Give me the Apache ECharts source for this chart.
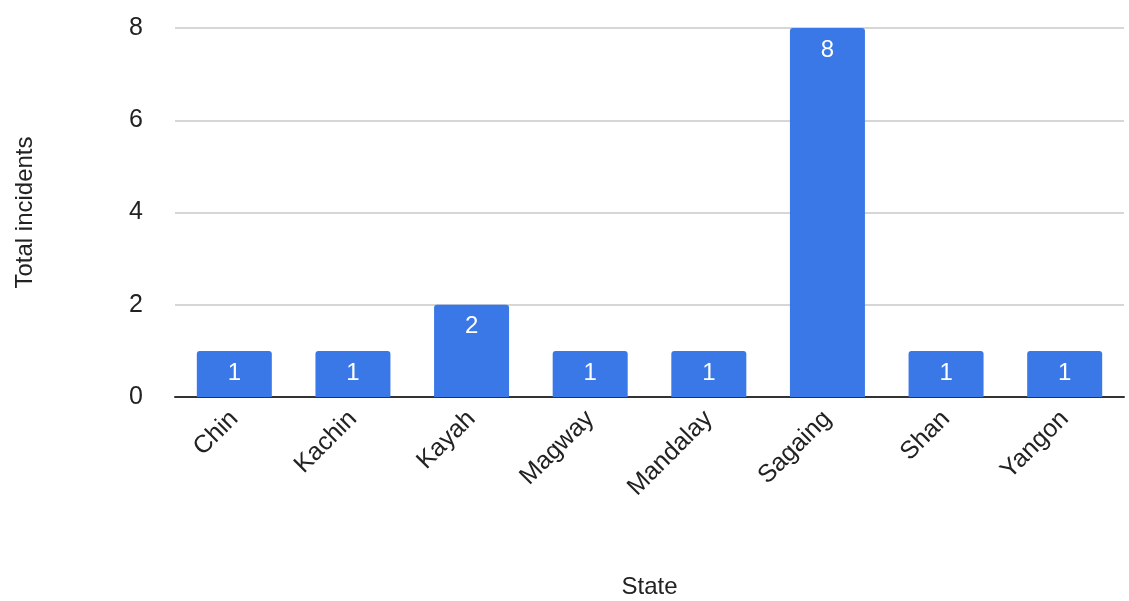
<!DOCTYPE html>
<html>
<head>
<meta charset="utf-8">
<style>
  html, body { margin: 0; padding: 0; background: #fff; }
  #chart { width: 1129px; height: 601px; }
</style>
<script src="https://cdn.jsdelivr.net/npm/echarts@6/dist/echarts.min.js"></script>
</head>
<body>
<div id="chart"></div>
<script>
// incidents per state
const states = ['Chin', 'Kachin', 'Kayah', 'Magway', 'Mandalay', 'Sagaing', 'Shan', 'Yangon']
const incidents = [1, 1, 2, 1, 1, 8, 1, 1]

const chart = echarts.init(document.getElementById('chart'))
const font = 'Arial, "Liberation Sans", sans-serif'

chart.setOption({
  animation: false,
  grid: { left: 175, right: 5, top: 28, bottom: 204, outerBoundsMode: 'none', containLabel: false },
  xAxis: {
    type: 'category',
    data: states,
    name: 'State',
    nameLocation: 'middle',
    nameGap: 178,
    nameTextStyle: { fontFamily: font, fontSize: 24, color: '#222' },
    axisLine: { lineStyle: { color: '#333', width: 2 } },
    axisTick: { show: false },
    axisLabel: { rotate: 45, margin: 18, padding: [0, 0, 0, 0], fontFamily: font, fontSize: 25, color: '#222' }
  },
  yAxis: {
    type: 'value',
    min: 0,
    max: 8,
    interval: 2,
    name: 'Total incidents',
    nameLocation: 'middle',
    nameGap: 138,
    nameTextStyle: { fontFamily: font, fontSize: 24, color: '#222' },
    axisLabel: { margin: 32, fontFamily: font, fontSize: 25, color: '#222' },
    splitLine: { lineStyle: { color: '#c8c8c8', width: 1.5 } }
  },
  series: [
    {
      type: 'bar',
      data: incidents,
      barWidth: 75,
      itemStyle: { color: '#3b78e7', borderRadius: [3, 3, 0, 0] },
      label: {
        show: true,
        position: 'insideTop',
        distance: 10,
        color: '#fff',
        fontFamily: font,
        fontSize: 24
      }
    }
  ]
})
</script>
</body>
</html>
